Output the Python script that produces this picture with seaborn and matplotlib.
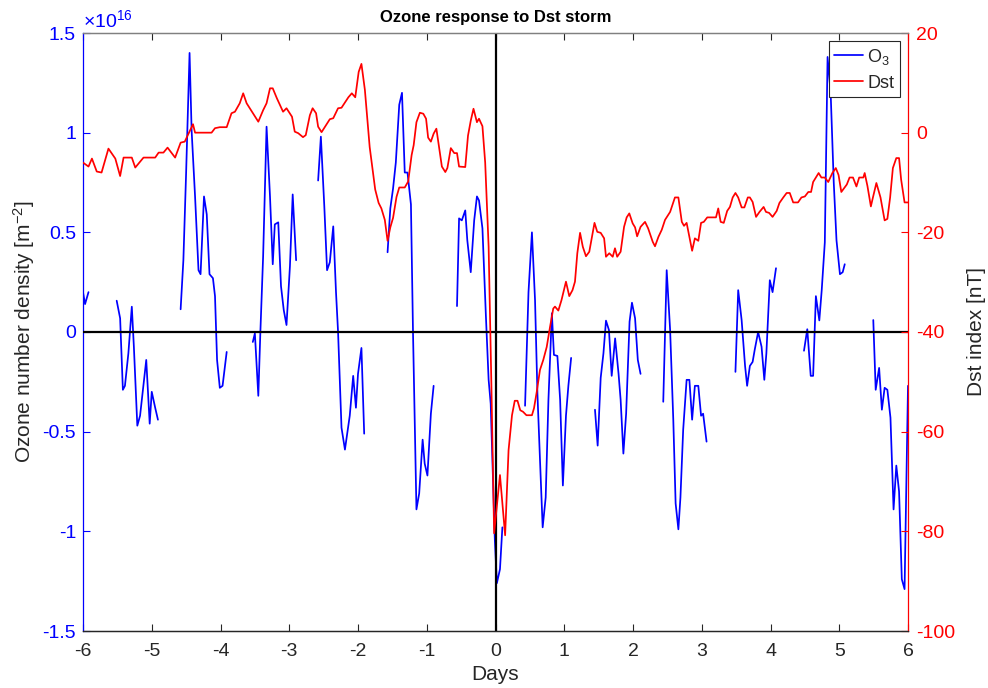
import numpy as np
import pandas as pd
import matplotlib
matplotlib.use("Agg")
import matplotlib.pyplot as plt
from matplotlib.lines import Line2D
from matplotlib.ticker import FuncFormatter
import seaborn as sns

# ---- Ozone column density anomaly (units of 1e16 m^-2), hourly, with data gaps ----
o3_seg1_day = [-6.00, -5.97, -5.92]
o3_seg1 = [0.20, 0.14, 0.20]

o3_seg2_day = [-5.51, -5.46, -5.42, -5.39, -5.34, -5.29, -5.26, -5.21, -5.17, -5.08, -5.03, -5.00, -4.95, -4.91]
o3_seg2 = [0.157, 0.069, -0.29, -0.27, -0.107, 0.127, -0.074, -0.47, -0.42, -0.14, -0.46, -0.30, -0.38, -0.44]

o3_seg3_day = [-4.58, -4.54, -4.50, -4.45, -4.42, -4.37, -4.32, -4.29, -4.24, -4.20, -4.16, -4.11, -4.08, -4.05, -4.01, -3.97, -3.91]
o3_seg3 = [0.114, 0.36, 0.80, 1.40, 1.01, 0.68, 0.31, 0.29, 0.68, 0.59, 0.29, 0.27, 0.18, -0.14, -0.28, -0.27, -0.10]

o3_seg4_day = [-3.53, -3.50, -3.45, -3.42, -3.38, -3.33, -3.28, -3.24, -3.21, -3.16, -3.12, -3.08, -3.04, -2.99, -2.95, -2.90]
o3_seg4 = [-0.05, -0.007, -0.32, 0.0, 0.38, 1.03, 0.68, 0.34, 0.54, 0.55, 0.23, 0.11, 0.035, 0.33, 0.69, 0.36]

o3_seg5_day = [-2.58, -2.54, -2.49, -2.45, -2.41, -2.36, -2.32, -2.29, -2.24, -2.19, -2.12, -2.07, -2.03, -2.00, -1.95, -1.91]
o3_seg5 = [0.76, 0.98, 0.63, 0.31, 0.35, 0.53, 0.20, 0.0, -0.48, -0.59, -0.42, -0.22, -0.38, -0.21, -0.08, -0.51]

o3_seg6_day = [-1.57, -1.53, -1.49, -1.45, -1.40, -1.36, -1.32, -1.28, -1.23, -1.20, -1.15, -1.11, -1.06, -1.03, -0.99, -0.94, -0.90]
o3_seg6 = [0.40, 0.62, 0.72, 0.85, 1.14, 1.20, 0.80, 0.80, 0.64, 0.0, -0.89, -0.81, -0.54, -0.66, -0.72, -0.41, -0.27]

o3_seg7_day = [-0.56, -0.53, -0.49, -0.44, -0.41, -0.36, -0.31, -0.27, -0.24, -0.19, -0.14, -0.10, -0.07, -0.01, 0.02, 0.065, 0.10]
o3_seg7 = [0.13, 0.57, 0.56, 0.61, 0.46, 0.30, 0.56, 0.68, 0.66, 0.52, 0.083, -0.24, -0.36, -1.04, -1.26, -1.19, -0.98]

o3_seg8_day = [0.43, 0.48, 0.53, 0.575, 0.61, 0.647, 0.686, 0.73, 0.77, 0.82, 0.85, 0.90, 0.94, 0.98, 1.025, 1.06, 1.10]
o3_seg8 = [-0.37, 0.20, 0.50, 0.16, -0.31, -0.64, -0.98, -0.83, -0.34, 0.094, -0.115, -0.12, -0.34, -0.77, -0.42, -0.27, -0.13]

o3_seg9_day = [1.447, 1.486, 1.53, 1.57, 1.607, 1.65, 1.69, 1.74, 1.79, 1.82, 1.86, 1.90, 1.95, 1.985, 2.03, 2.07, 2.11]
o3_seg9 = [-0.39, -0.57, -0.23, -0.107, 0.057, 0.01, -0.22, -0.032, -0.21, -0.34, -0.61, -0.41, 0.052, 0.147, 0.069, -0.14, -0.21]

o3_seg10_day = [2.44, 2.49, 2.54, 2.586, 2.62, 2.66, 2.69, 2.73, 2.78, 2.82, 2.86, 2.90, 2.95, 2.99, 3.02, 3.07]
o3_seg10 = [-0.35, 0.31, 0.01, -0.44, -0.86, -0.99, -0.83, -0.49, -0.24, -0.24, -0.44, -0.27, -0.27, -0.42, -0.41, -0.55]

o3_seg11_day = [3.49, 3.53, 3.58, 3.63, 3.66, 3.70, 3.74, 3.77, 3.82, 3.87, 3.91, 3.94, 3.99, 4.03, 4.08]
o3_seg11 = [-0.20, 0.21, 0.06, -0.17, -0.27, -0.17, -0.15, -0.09, 0.0, -0.074, -0.24, -0.107, 0.26, 0.20, 0.32]

o3_seg12_day = [4.487, 4.535, 4.585, 4.62, 4.66, 4.71, 4.745, 4.79, 4.83, 4.875, 4.92, 4.96, 5.01, 5.05, 5.08]
o3_seg12 = [-0.094, 0.014, -0.22, -0.22, 0.18, 0.058, 0.21, 0.45, 1.38, 1.20, 0.75, 0.46, 0.29, 0.30, 0.34]

o3_seg13_day = [5.495, 5.53, 5.58, 5.62, 5.66, 5.70, 5.745, 5.79, 5.83, 5.87, 5.91, 5.95, 6.00]
o3_seg13 = [0.06, -0.29, -0.18, -0.39, -0.28, -0.29, -0.43, -0.89, -0.67, -0.80, -1.24, -1.29, -0.27]

# ---- Dst index (nT) ----
dst_day = [
    -6.00, -5.92, -5.87, -5.80, -5.73, -5.63, -5.53, -5.46, -5.41, -5.29, -5.24, -5.12, -4.95, -4.90,
    -4.83, -4.77, -4.66, -4.58, -4.52, -4.40, -4.37, -4.13, -4.08, -4.01, -3.91, -3.84, -3.79, -3.72,
    -3.67, -3.62, -3.45, -3.38, -3.33, -3.28, -3.24, -3.18, -3.09, -3.04, -2.96, -2.92, -2.87, -2.80,
    -2.76, -2.70, -2.66, -2.61, -2.58, -2.53, -2.41, -2.36, -2.29, -2.24, -2.14, -2.09, -2.04, -1.99,
    -1.95, -1.90, -1.83, -1.75, -1.70, -1.66, -1.61, -1.57, -1.53, -1.49, -1.44, -1.40, -1.32, -1.27,
    -1.22, -1.19, -1.15, -1.10, -1.05, -1.01, -0.98, -0.94, -0.90, -0.86, -0.78, -0.73, -0.70, -0.65,
    -0.60, -0.56, -0.53, -0.44, -0.40, -0.36, -0.32, -0.27, -0.24, -0.19, -0.15, -0.10, -0.06, -0.02,
    0.065, 0.14, 0.19, 0.24, 0.28, 0.32, 0.36, 0.40, 0.45, 0.53, 0.56, 0.60, 0.647, 0.695, 0.745,
    0.793, 0.84, 0.865, 0.914, 0.96, 1.025, 1.073, 1.12, 1.156, 1.19, 1.23, 1.27, 1.316, 1.364, 1.44,
    1.48, 1.53, 1.58, 1.607, 1.655, 1.705, 1.738, 1.77, 1.82, 1.87, 1.908, 1.946, 1.995, 2.03, 2.06,
    2.11, 2.175, 2.22, 2.287, 2.32, 2.37, 2.418, 2.466, 2.54, 2.61, 2.66, 2.71, 2.742, 2.78, 2.82,
    2.86, 2.90, 2.95, 2.99, 3.03, 3.08, 3.207, 3.24, 3.275, 3.32, 3.37, 3.41, 3.45, 3.49, 3.53, 3.58,
    3.62, 3.67, 3.70, 3.74, 3.79, 3.84, 3.90, 3.934, 3.98, 4.03, 4.09, 4.13, 4.186, 4.235, 4.28, 4.33,
    4.40, 4.45, 4.50, 4.55, 4.59, 4.62, 4.70, 4.74, 4.79, 4.84, 4.90, 4.95, 4.99, 5.03, 5.11, 5.15,
    5.20, 5.25, 5.29, 5.35, 5.37, 5.41, 5.46, 5.49, 5.54, 5.60, 5.66, 5.70, 5.74, 5.78, 5.83, 5.87,
    5.90, 5.95, 6.00,
]
dst_val = [
    -6.0, -6.8, -5.2, -7.8, -8.0, -3.2, -5.2, -8.7, -5.0, -5.0, -7.0, -5.0, -5.0, -4.0,
    -4.0, -3.0, -5.0, -2.0, -1.8, 1.7, 0.0, 0.0, 0.9, 1.1, 1.1, 3.9, 4.2, 5.9,
    7.9, 5.9, 2.2, 4.5, 5.9, 8.9, 8.9, 6.9, 4.2, 4.9, 3.2, 0.2, -0.1, -0.9,
    -0.5, 3.5, 4.9, 3.9, 1.2, 0.1, 2.7, 2.9, 4.9, 5.0, 7.1, 7.9, 7.1, 12.2,
    13.8, 8.6, -2.9, -11.4, -14.1, -15.2, -17.5, -21.7, -19.0, -17.1, -12.9, -11.0, -11.0, -9.8,
    -4.5, -2.5, 2.1, 4.0, 3.8, 2.8, -1.0, -1.8, -0.2, 0.8, -6.8, -7.9, -7.1, -3.1,
    -4.1, -4.1, -6.8, -6.9, -0.6, 2.4, 4.8, 2.1, 2.8, 1.3, -6.0, -22.9, -50.5, -80.4,
    -68.7, -80.8, -63.7, -56.7, -53.8, -53.8, -55.7, -56.0, -56.7, -56.7, -55.3, -52.0, -47.6, -45.6, -43.0,
    -39.0, -35.3, -34.9, -35.7, -33.6, -29.9, -32.8, -31.6, -29.9, -24.2, -20.1, -22.9, -24.8, -23.9, -18.1,
    -19.9, -20.1, -21.2, -24.9, -24.2, -24.9, -23.2, -24.9, -23.9, -18.9, -17.0, -16.2, -18.2, -19.0, -20.8,
    -18.9, -17.9, -19.2, -21.9, -22.8, -20.9, -19.5, -17.5, -15.9, -13.0, -13.0, -17.9, -18.7, -18.1, -20.9,
    -23.7, -21.2, -21.7, -18.1, -17.9, -17.0, -17.0, -15.2, -17.9, -18.1, -15.7, -14.9, -13.0, -12.1, -13.0, -15.0,
    -15.0, -13.0, -13.0, -13.9, -16.9, -15.9, -14.9, -15.9, -16.1, -16.9, -15.7, -14.1, -13.0, -12.1, -12.1, -14.0,
    -14.0, -13.0, -12.8, -11.9, -11.9, -9.9, -8.1, -9.0, -9.0, -9.9, -8.1, -7.1, -8.5, -11.9, -10.4, -9.0,
    -9.0, -10.8, -9.0, -9.0, -8.1, -10.7, -14.8, -13.0, -10.1, -13.0, -17.6, -17.3, -13.0, -7.1, -5.1, -5.1,
    -9.4, -14.0, -14.0,
]

x_ticks = [-6, -5, -4, -3, -2, -1, 0, 1, 2, 3, 4, 5, 6]
o3_ticks = [-1.5, -1.0, -0.5, 0.0, 0.5, 1.0, 1.5]
dst_ticks = [-100, -80, -60, -40, -20, 0, 20]

title_text = "Ozone response to Dst storm"
xlabel_text = "Days"
ylabel_left = "Ozone number density [m$^{-2}$]"
ylabel_right = "Dst index [nT]"

# ---- tidy tables for seaborn ----
o3_parts = [
    (o3_seg1_day, o3_seg1), (o3_seg2_day, o3_seg2), (o3_seg3_day, o3_seg3),
    (o3_seg4_day, o3_seg4), (o3_seg5_day, o3_seg5), (o3_seg6_day, o3_seg6),
    (o3_seg7_day, o3_seg7), (o3_seg8_day, o3_seg8), (o3_seg9_day, o3_seg9),
    (o3_seg10_day, o3_seg10), (o3_seg11_day, o3_seg11), (o3_seg12_day, o3_seg12),
    (o3_seg13_day, o3_seg13),
]
o3_df = pd.concat(
    [pd.DataFrame({"day": d, "o3": v, "seg": i}) for i, (d, v) in enumerate(o3_parts)],
    ignore_index=True,
)
dst_df = pd.DataFrame({"day": dst_day, "dst": dst_val})

# ---- style ----
sns.set_style("white")
plt.rcParams["font.family"] = ["Liberation Sans", "DejaVu Sans"]
plt.rcParams["axes.unicode_minus"] = False
plt.rcParams["mathtext.fontset"] = "custom"
plt.rcParams["mathtext.rm"] = "Liberation Sans"
plt.rcParams["mathtext.it"] = "Liberation Sans:italic"

BLUE = "#0000FF"
RED = "#FF0000"
AXC = "#262626"

fig = plt.figure(figsize=(9.88, 6.88), dpi=100)
ax = fig.add_axes([83 / 988, 1 - 631 / 688, 825 / 988, 598 / 688])
ax2 = ax.twinx()

# ozone on the left axis, one unit per contiguous stretch of data
sns.lineplot(data=o3_df, x="day", y="o3", units="seg", estimator=None, sort=False,
             color=BLUE, linewidth=1.25, ax=ax, legend=False)
# reference lines
ax.axhline(0, color="black", linewidth=1.6, zorder=3)
ax.axvline(0, color="black", linewidth=1.6, zorder=3)

# Dst on the right axis
sns.lineplot(data=dst_df, x="day", y="dst", estimator=None, sort=False,
             color=RED, linewidth=1.25, ax=ax2, legend=False)

ax.set_xlim(-6, 6)
ax.set_ylim(-1.5, 1.5)
ax2.set_ylim(-100, 20)

ax.set_xticks(x_ticks)
ax.set_yticks(o3_ticks)
ax2.set_yticks(dst_ticks)
fmt = FuncFormatter(lambda v, p: "%g" % v)
ax.xaxis.set_major_formatter(fmt)
ax.yaxis.set_major_formatter(fmt)
ax2.yaxis.set_major_formatter(fmt)

tick_fs = 14
ax.tick_params(axis="x", which="both", direction="in", length=5, width=0.8, top=True,
               bottom=True, colors=AXC, labelsize=tick_fs, pad=9)
ax.tick_params(axis="y", direction="in", length=5, width=0.8, left=True, right=False,
               colors=BLUE, labelsize=tick_fs, pad=5)
ax2.tick_params(axis="y", direction="in", length=5, width=0.8, left=False, right=True,
                colors=RED, labelsize=tick_fs, pad=6)

for a in (ax, ax2):
    for s in a.spines.values():
        s.set_linewidth(0.9)
    a.spines["top"].set_color("#808080")
    a.spines["bottom"].set_color(AXC)
ax.spines["left"].set_color(BLUE)
ax2.spines["left"].set_visible(False)
ax2.spines["right"].set_color(RED)
ax.spines["right"].set_visible(False)

label_fs = 15
ax.set_xlabel(xlabel_text, fontsize=label_fs, color=AXC, labelpad=3)
ax.set_ylabel(ylabel_left, fontsize=label_fs, color=AXC, labelpad=4)
ax2.set_ylabel(ylabel_right, fontsize=label_fs, color=AXC, labelpad=8)
ax.set_title(title_text, fontsize=12, fontweight="bold", color="black", pad=8)

# exponent of the left axis
ax.text(0.0, 1.004, r"$\times$10$^{16}$", transform=ax.transAxes, ha="left", va="bottom",
        color=BLUE, fontsize=tick_fs)

handles = [Line2D([], [], color=BLUE, linewidth=1.25), Line2D([], [], color=RED, linewidth=1.25)]
leg = ax2.legend(handles, ["O$_3$", "Dst"], loc="upper right", fontsize=13,
                 frameon=True, fancybox=False, framealpha=1, edgecolor=AXC,
                 borderaxespad=0.45, borderpad=0.3, handlelength=1.6,
                 handletextpad=0.25, labelspacing=0.45)
leg.get_frame().set_linewidth(0.8)

fig.savefig("out.png", dpi=100, facecolor="white")
